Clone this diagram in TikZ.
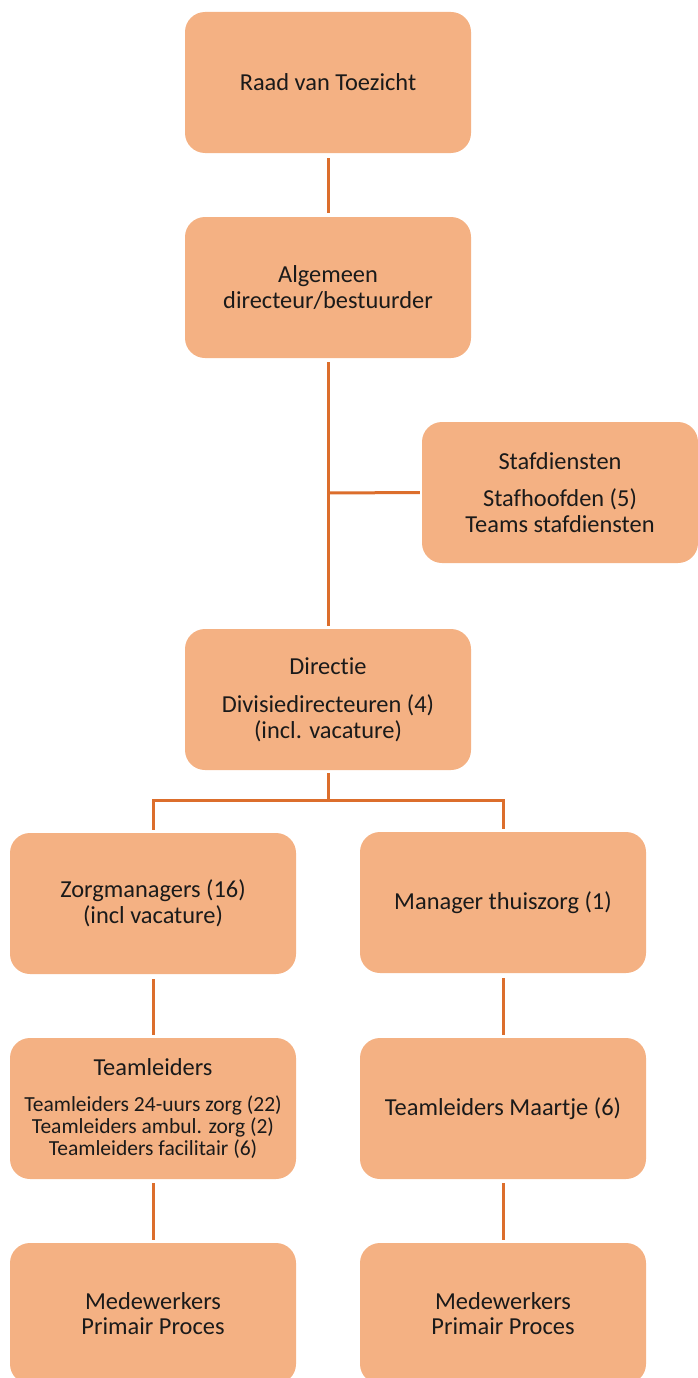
\documentclass[tikz,border=0pt]{standalone}
\usepackage{fontspec}
\setmainfont[RawFeature=-liga]{Carlito}
\definecolor{boxfill}{HTML}{F4B183}
\definecolor{linecol}{HTML}{DC6E2C}
\definecolor{txt}{HTML}{1A1A1A}
\newcommand{\smallfs}{\fontsize{21.5}{21.5}\selectfont}
\tikzset{
  orgbox/.style={fill=boxfill, draw=none, rounded corners=20pt, minimum width=286pt, minimum height=141pt, align=center, text=txt, font=\fontsize{24.4}{25.5}\selectfont, inner sep=0pt},
  conn/.style={draw=linecol, line width=3pt}
}
\begin{document}
\begin{tikzpicture}[x=1pt,y=-1pt]
\useasboundingbox (0,0) rectangle (697,1378);
\node[orgbox] (rvt) at (328,82.5) {Raad van Toezicht};
\node[orgbox] (ad) at (328,287.5) {Algemeen\\directeur/bestuurder};
\node[orgbox, minimum width=276pt] (staf) at (560,492.5) {Stafdiensten\\[12pt]Stafhoofden (5)\\Teams stafdiensten};
\node[orgbox] (dir) at (328,699.5) {Directie\\[13pt]Divisiedirecteuren (4)\\(incl. vacature)};
\node[orgbox] (zm) at (153,903.5) {Zorgmanagers (16)\\(incl vacature)};
\node[orgbox] (mt) at (503,902.5) {Manager thuiszorg (1)};
\node[orgbox] (tl) at (153,1108.5) {Teamleiders\\[10pt]\smallfs Teamleiders 24-uurs zorg (22)\\[-3.5pt]\smallfs Teamleiders ambul. zorg (2)\\[-3.5pt]\smallfs Teamleiders facilitair (6)};
\node[orgbox] (tlm) at (503,1108.5) {Teamleiders Maartje (6)};
\node[orgbox] (mw1) at (153,1313.5) {Medewerkers\\Primair Proces};
\node[orgbox] (mw2) at (503,1313.5) {Medewerkers\\Primair Proces};
\coordinate (j1) at (328,493);
\coordinate (j2) at (328,800);
\draw[conn] ([yshift=-5pt]rvt.south) -- ([yshift=4pt]ad.north);
\draw[conn] ([yshift=-4pt]ad.south) -- ([yshift=3pt]dir.north);
\draw[conn] (j1) -- ([xshift=-2pt]staf.west);
\draw[conn] ([yshift=-3pt]dir.south) -- (j2);
\draw[conn] ([yshift=3pt]zm.north) |- (j2) -| ([yshift=3pt]mt.north);
\draw[conn] ([yshift=-5pt]zm.south) -- ([yshift=3pt]tl.north);
\draw[conn] ([yshift=-5pt]mt.south) -- ([yshift=3pt]tlm.north);
\draw[conn] ([yshift=-4pt]tl.south) -- ([yshift=3pt]mw1.north);
\draw[conn] ([yshift=-4pt]tlm.south) -- ([yshift=3pt]mw2.north);
\end{tikzpicture}
\end{document}
